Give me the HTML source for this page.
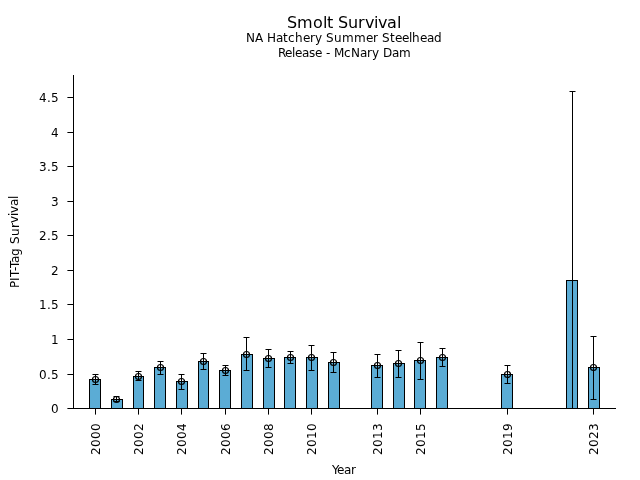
<!DOCTYPE html><html><head><meta charset="utf-8"><title>Smolt Survival</title>
<style>html,body{margin:0;padding:0;background:#fff;overflow:hidden}svg{display:block}text{font-family:"DejaVu Sans","Liberation Sans",sans-serif;fill:#000}</style></head><body>
<svg width="640" height="480" viewBox="0 0 640 480">
<rect width="640" height="480" fill="#fff"/>
<g fill="#5bacd5" stroke="#000" stroke-width="1" shape-rendering="crispEdges">
<rect x="89.5" y="379.5" width="11.0" height="29.0"/>
<rect x="111.5" y="399.5" width="11.0" height="9.0"/>
<rect x="133.5" y="376.5" width="10.0" height="32.0"/>
<rect x="154.5" y="367.5" width="11.0" height="41.0"/>
<rect x="176.5" y="381.5" width="11.0" height="27.0"/>
<rect x="198.5" y="361.5" width="10.0" height="47.0"/>
<rect x="219.5" y="370.5" width="11.0" height="38.0"/>
<rect x="241.5" y="354.5" width="11.0" height="54.0"/>
<rect x="263.5" y="358.5" width="11.0" height="50.0"/>
<rect x="284.5" y="357.5" width="11.0" height="51.0"/>
<rect x="306.5" y="357.5" width="11.0" height="51.0"/>
<rect x="328.5" y="362.5" width="11.0" height="46.0"/>
<rect x="371.5" y="365.5" width="11.0" height="43.0"/>
<rect x="393.5" y="363.5" width="11.0" height="45.0"/>
<rect x="414.5" y="360.5" width="11.0" height="48.0"/>
<rect x="436.5" y="357.5" width="11.0" height="51.0"/>
<rect x="501.5" y="374.5" width="11.0" height="34.0"/>
<rect x="566.5" y="280.5" width="11.0" height="128.0"/>
<rect x="588.5" y="367.5" width="11.0" height="41.0"/>
</g>
<g stroke="#000" stroke-width="1" fill="none" shape-rendering="crispEdges">
<path d="M95.5 374V385"/>
<path d="M116.5 396V402"/>
<path d="M138.5 371V381"/>
<path d="M160.5 361V375"/>
<path d="M181.5 374V390"/>
<path d="M203.5 353V370"/>
<path d="M225.5 365V376"/>
<path d="M246.5 337V371"/>
<path d="M268.5 349V368"/>
<path d="M290.5 351V364"/>
<path d="M311.5 345V371"/>
<path d="M333.5 352V373"/>
<path d="M377.5 354V378"/>
<path d="M398.5 350V378"/>
<path d="M420.5 342V380"/>
<path d="M442.5 348V367"/>
<path d="M507.5 365V384"/>
<path d="M572.5 91V408"/>
<path d="M593.5 336V400"/>
</g>
<g stroke="#000" stroke-width="1" fill="none">
<path d="M92.5 374.5h6"/>
<path d="M92.5 384.5h6"/>
<path d="M113.5 396.5h6"/>
<path d="M113.5 401.5h6"/>
<path d="M135.5 371.5h6"/>
<path d="M135.5 380.5h6"/>
<path d="M157.5 361.5h6"/>
<path d="M157.5 374.5h6"/>
<path d="M178.5 374.5h6"/>
<path d="M178.5 389.5h6"/>
<path d="M200.5 353.5h6"/>
<path d="M200.5 369.5h6"/>
<path d="M222.5 365.5h6"/>
<path d="M222.5 375.5h6"/>
<path d="M243.5 337.5h6"/>
<path d="M243.5 370.5h6"/>
<path d="M265.5 349.5h6"/>
<path d="M265.5 367.5h6"/>
<path d="M287.5 351.5h6"/>
<path d="M287.5 363.5h6"/>
<path d="M308.5 345.5h6"/>
<path d="M308.5 370.5h6"/>
<path d="M330.5 352.5h6"/>
<path d="M330.5 372.5h6"/>
<path d="M374.5 354.5h6"/>
<path d="M374.5 377.5h6"/>
<path d="M395.5 350.5h6"/>
<path d="M395.5 377.5h6"/>
<path d="M417.5 342.5h6"/>
<path d="M417.5 379.5h6"/>
<path d="M439.5 348.5h6"/>
<path d="M439.5 366.5h6"/>
<path d="M504.5 365.5h6"/>
<path d="M504.5 383.5h6"/>
<path d="M569.5 91.5h6"/>
<path d="M590.5 336.5h6"/>
<path d="M590.5 399.5h6"/>
</g>
<g stroke="#000" stroke-width="1.2" fill="none">
<circle cx="95.5" cy="379.5" r="3"/>
<circle cx="116.5" cy="399.5" r="3"/>
<circle cx="138.5" cy="376.5" r="3"/>
<circle cx="160.5" cy="367.5" r="3"/>
<circle cx="181.5" cy="381.5" r="3"/>
<circle cx="203.5" cy="361.5" r="3"/>
<circle cx="225.5" cy="370.5" r="3"/>
<circle cx="246.5" cy="354.5" r="3"/>
<circle cx="268.5" cy="358.5" r="3"/>
<circle cx="290.5" cy="357.5" r="3"/>
<circle cx="311.5" cy="357.5" r="3"/>
<circle cx="333.5" cy="362.5" r="3"/>
<circle cx="377.5" cy="365.5" r="3"/>
<circle cx="398.5" cy="363.5" r="3"/>
<circle cx="420.5" cy="360.5" r="3"/>
<circle cx="442.5" cy="357.5" r="3"/>
<circle cx="507.5" cy="374.5" r="3"/>
<circle cx="593.5" cy="367.5" r="3"/>
</g>
<g stroke="#000" stroke-width="1" fill="none" shape-rendering="crispEdges">
<path d="M73.5 75V409"/>
<path d="M73 408.5H616"/>
</g>
<g stroke="#000" stroke-width="1" fill="none">
<path d="M95.5 409v5.6"/>
<path d="M138.5 409v5.6"/>
<path d="M181.5 409v5.6"/>
<path d="M225.5 409v5.6"/>
<path d="M268.5 409v5.6"/>
<path d="M311.5 409v5.6"/>
<path d="M377.5 409v5.6"/>
<path d="M420.5 409v5.6"/>
<path d="M507.5 409v5.6"/>
<path d="M593.5 409v5.6"/>
<path d="M73 408.5h-5.6"/>
<path d="M73 374.5h-5.6"/>
<path d="M73 339.5h-5.6"/>
<path d="M73 304.5h-5.6"/>
<path d="M73 270.5h-5.6"/>
<path d="M73 235.5h-5.6"/>
<path d="M73 201.5h-5.6"/>
<path d="M73 166.5h-5.6"/>
<path d="M73 132.5h-5.6"/>
<path d="M73 97.5h-5.6"/>
</g>
<g font-size="12px">
<text x="51" y="413">0</text>
<text x="39 47 51" y="379">0.5</text>
<text x="51" y="344">1</text>
<text x="39 47 51" y="309">1.5</text>
<text x="51" y="275">2</text>
<text x="39 47 51" y="240">2.5</text>
<text x="51" y="206">3</text>
<text x="39 47 51" y="171">3.5</text>
<text x="51" y="137">4</text>
<text x="39 47 51" y="102">4.5</text>
<text transform="translate(100 455) rotate(-90)" x="0 8 16 24" y="0">2000</text>
<text transform="translate(143 455) rotate(-90)" x="0 8 16 24" y="0">2002</text>
<text transform="translate(186 455) rotate(-90)" x="0 8 16 24" y="0">2004</text>
<text transform="translate(230 455) rotate(-90)" x="0 8 16 24" y="0">2006</text>
<text transform="translate(273 455) rotate(-90)" x="0 8 16 24" y="0">2008</text>
<text transform="translate(316 455) rotate(-90)" x="0 8 16 24" y="0">2010</text>
<text transform="translate(382 455) rotate(-90)" x="0 8 16 24" y="0">2013</text>
<text transform="translate(425 455) rotate(-90)" x="0 8 16 24" y="0">2015</text>
<text transform="translate(512 455) rotate(-90)" x="0 8 16 24" y="0">2019</text>
<text transform="translate(598 455) rotate(-90)" x="0 8 16 24" y="0">2023</text>
<text x="332 337 344 351" y="473.8">Year</text>
<text transform="translate(18.8 288) rotate(-90)" x="0 7 11 17 20 25 32 40 44 52 60 65 72 75 82 89" y="0 0 0 0 0 0 0 0 0 0 0 -1 -1 -1 -1 -1">PIT-Tag Survival</text>
<text x="246 255 263 267 276 283 288 295 303 310 315 322 326 334 342 354 366 373 378 382 390 395 402 409 412 420 427 434" y="41.5">NA Hatchery Summer Steelhead</text>
<text x="278 285 292 295 302 309 315 322 326 330 334 344 351 360 367 372 379 383 392 399" y="56.5">Release - McNary Dam</text>
</g>
<g font-size="16px">
<text x="287 297 313 323 327 333 338 348 358 365 374 378 387 397" y="27.8">Smolt Survival</text>
</g>
</svg></body></html>
